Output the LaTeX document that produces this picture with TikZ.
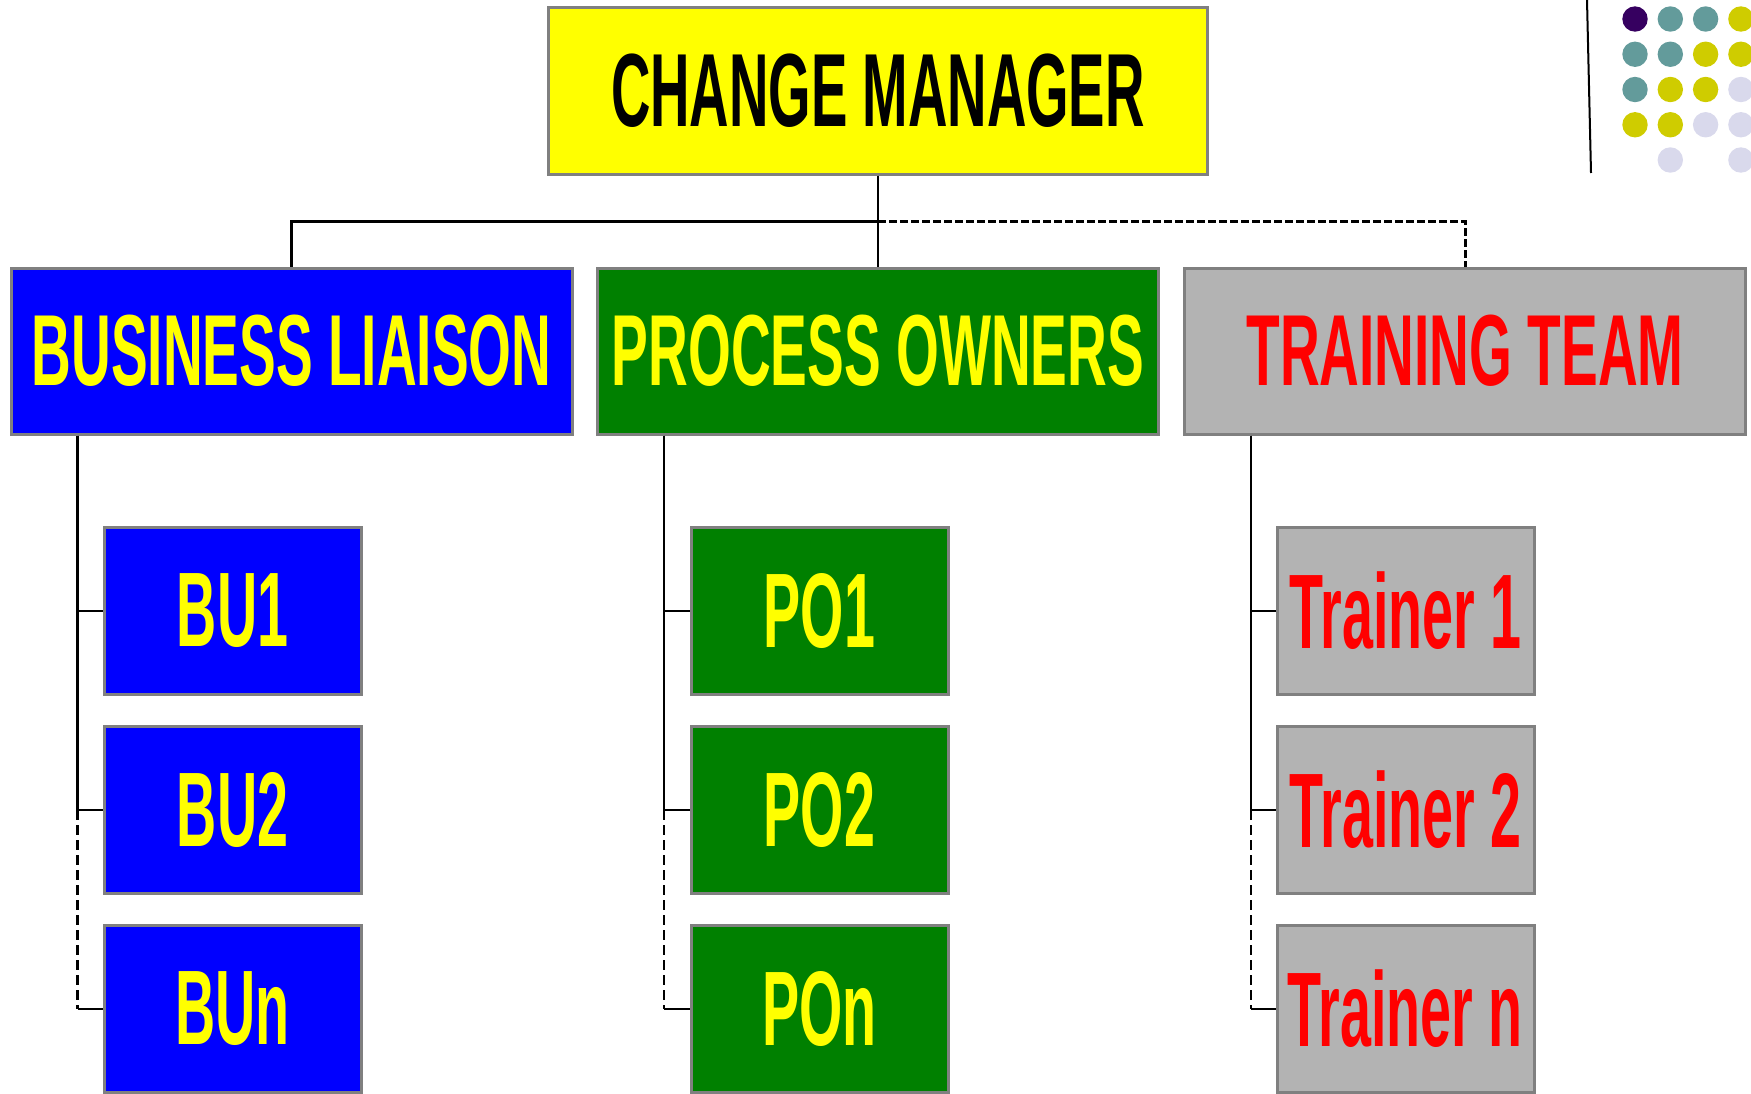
\documentclass[tikz,border=0pt]{standalone}
\usepackage{fontspec}
\usetikzlibrary{calc}
\newfontfamily\condfont[FakeStretch=0.525]{Liberation Sans Bold}
\newfontfamily\condfontb[FakeStretch=0.545]{Liberation Sans Bold}
\definecolor{boxgray}{HTML}{808080}
\definecolor{cmyellow}{HTML}{FFFF00}
\definecolor{bublue}{HTML}{0000FF}
\definecolor{pogreen}{HTML}{008000}
\definecolor{trgray}{HTML}{B3B3B3}
\definecolor{txred}{HTML}{FF0000}
\definecolor{dotpurple}{HTML}{360060}
\definecolor{dotteal}{HTML}{639B9B}
\definecolor{dotolive}{HTML}{CFCC00}
\definecolor{dotlav}{HTML}{D9D9EC}
\begin{document}
\begin{tikzpicture}[x=1pt,y=-1pt,
  boss/.style={draw=boxgray,line width=3pt,fill=cmyellow,minimum width=659pt,minimum height=167pt,
    inner sep=0pt,font=\condfont\fontsize{104}{110}\selectfont},
  head/.style={draw=boxgray,line width=3pt,minimum width=561pt,minimum height=166pt,
    inner sep=0pt,font=\condfontb\fontsize{101}{110}\selectfont},
  member/.style={draw=boxgray,line width=3pt,minimum width=257pt,minimum height=167pt,
    inner sep=0pt,font=\condfont\fontsize{106}{110}\selectfont},
  link/.style={line width=2.5pt},
  maybe/.style={line width=2.5pt,dash pattern=on 10pt off 5pt}]
  \useasboundingbox (0,0) rectangle (1751,1093);
  % top and second level
  \node[boss] (cm) at (878,90.5) {CHANGE MANAGER};
  \node[head,fill=bublue,text=cmyellow] (bl) at (291.5,351) {BUSINESS LIAISON};
  \node[head,fill=pogreen,text=cmyellow] (po) at (878,351) {PROCESS OWNERS};
  \node[head,fill=trgray,text=txred] (tt) at (1465,351) {TRAINING TEAM};
  \coordinate (hub) at ($(cm.south)!.5!(po.north)$);
  \draw[link] (cm.south) -- (po.north);
  \draw[line width=3pt] (bl.north) |- (hub);
  \draw[line width=3pt,dash pattern=on 8pt off 3pt] (hub) -| (tt.north);
  % members
  \foreach \i/\t/\y in {1/1/611,2/2/810,3/n/1009}{
    \node[member,fill=bublue,text=cmyellow] (bu\i) at (232.5,\y) {BU\t};
    \node[member,fill=pogreen,text=cmyellow] (po\i) at (819.5,\y) {PO\t};
    \node[member,fill=trgray,text=txred] (tr\i) at (1405.5,\y) {Trainer \t};
  }
  \foreach \h/\m in {bl/bu,po/po,tt/tr}{
    \coordinate (\h bus) at ([xshift=68pt]\h.south west);
    \draw[link] (\h bus) |- (\m 1.west);
    \draw[link] (\h bus) |- (\m 2.west);
    \draw[maybe] (\m 2.west -| \h bus) -- (\m 3.west -| \h bus);
    \draw[link] (\m 3.west -| \h bus) -- (\m 3.west);
  }
  % corner dots
  \draw[line width=2pt] (1587,0) -- (1591,173);
  \foreach \c/\r/\col in {0/0/dotpurple,1/0/dotteal,2/0/dotteal,3/0/dotolive,
      0/1/dotteal,1/1/dotteal,2/1/dotolive,3/1/dotolive,
      0/2/dotteal,1/2/dotolive,2/2/dotolive,3/2/dotlav,
      0/3/dotolive,1/3/dotolive,2/3/dotlav,3/3/dotlav,
      1/4/dotlav,3/4/dotlav}
    \fill[\col] (1635+35.3*\c,19+35.25*\r) circle[radius=12.7pt];
\end{tikzpicture}
\end{document}
